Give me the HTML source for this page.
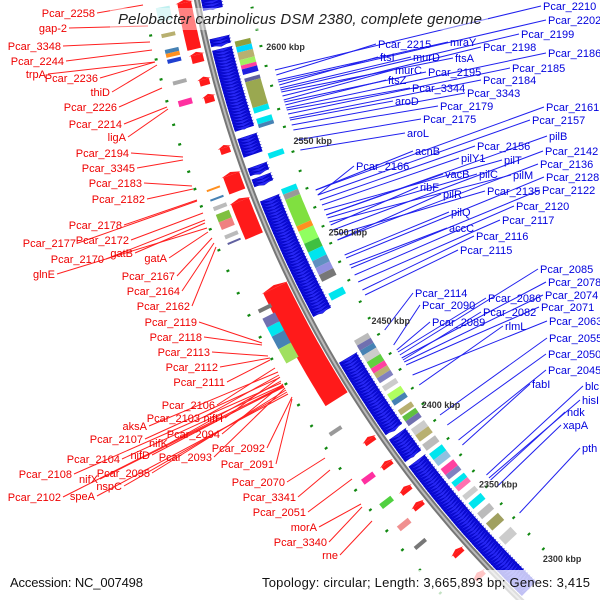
<!DOCTYPE html>
<html><head><meta charset="utf-8"><style>
html,body{margin:0;padding:0;background:#fff;width:600px;height:600px;overflow:hidden;}
svg{display:block;font-family:"Liberation Sans",sans-serif;}
</style></head><body>
<svg id="map" width="600" height="600" viewBox="0 0 600 600" xmlns="http://www.w3.org/2000/svg" overflow="hidden">
<g id="features"></g>
<g id="lines"></g>
<g id="labels"></g>
<g id="ticks"></g>
<rect x="110" y="8" width="378" height="22" fill="#fff" opacity="0.45"/>
<text x="118" y="24" font-size="15" font-style="italic" fill="#222" textLength="364" lengthAdjust="spacing">Pelobacter carbinolicus DSM 2380, complete genome</text>
<rect x="0" y="570" width="600" height="30" fill="#fff" opacity="0.75"/>
<text x="10" y="587" font-size="13" fill="#111" textLength="133" lengthAdjust="spacing">Accession: NC_007498</text>
<text x="262" y="587" font-size="13" fill="#111" textLength="328" lengthAdjust="spacing">Topology: circular; Length: 3,665,893 bp; Genes: 3,415</text>
</svg>
<script>
var CX=1320, CY=-218, R=1144;
var tickKbp=[2600,2550,2500,2450,2400,2350,2300];
var blueClusters=[[2627,2621],[2606,2602],[2600,2557],[2553,2543],[2537,2533],[2531,2527],[2519,2454],[2427,2383],[2380,2366],[2363,2275]];
var redClusters=[[2627,2603,6,20],[2600,2596,6,18],[2587,2584,6,16],[2578,2575,6,16],[2551,2548,6,16],[2537,2528,5,22],[2523,2504,5,24],[2476,2412,4,30],[2386,2384,6,18],[2371,2369,6,18],[2355,2353,6,18],[2345,2343,6,18],[2314,2312,6,18],[2298,2296,6,18]];
var innerCog=[[2602,2599,'#8f9f40'],[2599,2596,'#00d8ff'],[2596,2592,'#b8b070'],[2592,2589,'#a0f060'],[2589,2587,'#ff40a0'],[2587,2584,'#2020e0'],[2582,2580,'#6060a0'],[2580,2566,'#9aa850'],[2566,2563,'#00e5ee'],[2560,2557,'#00e5ee'],[2557,2555,'#4682b4'],[2541,2538,'#00e5ee'],[2521,2518,'#00e5ee'],[2518,2515,'#999'],[2515,2500,'#80e040'],[2500,2497,'#ff9020'],[2497,2490,'#90ff60'],[2490,2485,'#40c040'],[2485,2480,'#00e5ee'],[2480,2476,'#6090c0'],[2476,2472,'#9090e0'],[2472,2468,'#777'],[2461,2457,'#00e5ee'],
[2433,2430,'#bbb'],[2430,2427,'#7070b0'],[2427,2424,'#4682b4'],[2424,2420,'#ccc'],[2420,2416,'#60d040'],[2416,2413,'#ff40a0'],[2413,2410,'#b8b070'],[2410,2407,'#8080c0'],[2405,2402,'#ccc'],[2400,2396,'#b0ff60'],[2396,2393,'#4682b4'],[2390,2387,'#b8b070'],[2386,2383,'#60c040'],[2383,2380,'#7070b0'],[2378,2374,'#ccc'],[2374,2370,'#b8b070'],[2368,2364,'#bbb'],[2362,2358,'#00e5ee'],[2358,2354,'#90c0e0'],[2352,2348,'#ff40a0'],[2348,2345,'#8080c0'],[2343,2340,'#00e5ee'],[2340,2337,'#ff70b0'],[2334,2331,'#ccc'],[2329,2325,'#00e5ee'],[2322,2318,'#bbb'],[2315,2310,'#a0a060'],[2305,2300,'#ccc']];
var outerCog=[[2627,2620,'#c0f0f0'],[2614,2612,'#b8b070'],[2606,2604,'#4682b4'],[2604,2602,'#ff9020'],[2601,2599,'#2040d0'],[2590,2588,'#aaa'],[2580,2577,'#ff30a0'],[2534,2533,'#ff9020'],[2529,2528,'#4682b4'],[2525,2523,'#bbb'],[2521,2517,'#80c040'],[2517,2513,'#f08080'],[2510,2508,'#bbb'],[2506,2505,'#6060a0'],[2470,2468,'#777'],[2465,2460,'#7070b0'],[2460,2455,'#00e5ee'],[2455,2448,'#4682b4'],[2448,2440,'#a0e060'],[2400,2398,'#999'],[2372,2369,'#ff30a0'],[2357,2354,'#50d040'],[2343,2340,'#f09090'],[2330,2328,'#777']];
var innerDots=[2618,2606,2597,2586,2575,2562,2552,2538,2527,2517,2506,2495,2485,2474,2463,2450,2440,2430,2418,2408,2396,2386,2375,2363,2352,2341,2330,2318,2308,2296,2285];
var outerDots=[2615,2603,2593,2582,2570,2560,2546,2537,2528,2516,2505,2494,2482,2470,2458,2446,2432,2420,2408,2395,2383,2370,2358,2345,2333,2320,2305,2290];
var redLabels=[["Pcar_2258",95,13,143,5],["gap-2",67,28,148,26],["Pcar_3348",61,46,150,42],["Pcar_2244",64,61,152,50],["trpA",46,74,155,62],["Pcar_2236",98,78,155,62],["thiD",110,92,157,65],["Pcar_2226",117,107,162,88],["Pcar_2214",122,124,167,107],["ligA",126,137,168,109],["Pcar_2194",129,153,183,157],["Pcar_3345",135,168,183,160],["Pcar_2183",142,183,192,186],["Pcar_2182",145,199,193,189],["Pcar_2178",122,225,197,200],["Pcar_2177",76,243,197,201],["Pcar_2172",129,240,203,213],["Pcar_2170",104,259,205,220],["gatB",133,253,205,223],["glnE",55,274,207,228],["gatA",167,258,208,232],["Pcar_2167",175,276,212,238],["Pcar_2164",180,291,214,243],["Pcar_2162",190,306,216,247],["Pcar_2119",197,322,262,343],["Pcar_2118",202,337,262,345],["Pcar_2113",210,352,268,356],["Pcar_2112",218,367,270,358],["Pcar_2111",225,382,270,360],["Pcar_2106",215,405,275,368],["aksA",147,426,278,372],["Pcar_2103",200,418,279,375],["nifH",223,418,280,377],["Pcar_2107",143,439,279,378],["nifK",168,443,281,381],["Pcar_2094",220,434,283,384],["nifD",150,455,284,386],["Pcar_2093",212,457,285,388],["Pcar_2092",265,448,292,397],["Pcar_2091",274,464,292,399],["Pcar_2104",120,459,283,385],["Pcar_2108",72,474,281,383],["nifX",98,479,284,387],["Pcar_2095",150,473,286,390],["nspC",122,486,287,392],["Pcar_2102",61,497,283,386],["speA",95,496,288,394],["Pcar_2070",285,482,325,458],["Pcar_3341",296,497,330,470],["Pcar_2051",306,512,352,479],["morA",317,527,361,504],["Pcar_3340",327,542,362,507],["rne",338,555,372,521]];
var blueLabels=[["Pcar_2210",543,10,70],["Pcar_2202",548,24,82],["Pcar_2199",521,38,90],["Pcar_2198",483,51,96],["Pcar_2186",548,57,108],["Pcar_2185",512,72,114],["Pcar_2184",483,84,118],["Pcar_3343",467,97,125],["Pcar_2161",546,111,190],["Pcar_2157",532,124,195],["pilB",549,140,215],["Pcar_2142",545,155,230],["Pcar_2136",540,168,240],["Pcar_2128",546,181,258],["Pcar_2122",542,194,268],["Pcar_2120",516,210,275],["Pcar_2117",502,224,282],["Pcar_2116",476,240,290],["Pcar_2115",460,254,295],["Pcar_2114",415,297,330],["Pcar_2090",422,309,345],["Pcar_2086",488,302,352],["Pcar_2085",540,273,355],["Pcar_2078",548,286,358],["Pcar_2074",545,299,362],["Pcar_2082",483,316,360],["Pcar_2071",541,311,365],["Pcar_2089",432,326,350],["rlmL",505,330,385],["Pcar_2063",549,325,375],["Pcar_2055",549,342,415],["Pcar_2050",548,358,425],["Pcar_2045",548,374,440],["fabI",532,388,445],["blc",585,390,475],["hisI",582,404,478],["ndk",567,416,480],["xapA",563,429,487],["pth",582,452,513],["Pcar_2215",378,48,75],["ftsI",380,61,85],["mraY",450,46,80],["murD",413,61,88],["ftsA",455,62,92],["murC",395,74,100],["Pcar_2195",428,76,102],["ftsZ",388,84,105],["Pcar_3344",412,92,110],["aroD",395,105,120],["Pcar_2179",440,110,130],["Pcar_2175",423,123,140],["aroL",407,137,150],["acnB",415,155,190],["Pcar_2166",356,170,195],["Pcar_2156",477,150,200],["pilY1",461,162,205],["pilT",504,164,210],["vacB",445,178,215],["pilC",479,178,218],["pilM",513,179,222],["ribF",420,191,225],["Pcar_2135",487,195,235],["pilR",443,198,240],["pilQ",451,216,255],["accC",449,232,265]];

var NS="http://www.w3.org/2000/svg";
function ang(k){return (166.35+(k-2600)*0.0982)*Math.PI/180;}
function pt(k,off){var a=ang(k),r=R+off;return [CX+r*Math.cos(a),CY+r*Math.sin(a)];}
function mk(tag,parent){var e=document.createElementNS(NS,tag);document.getElementById(parent).appendChild(e);return e;}
function band(k1,k2,o1,o2){var s=[],n=Math.max(2,Math.ceil(Math.abs(k1-k2)/2));for(var i=0;i<=n;i++){s.push(pt(k1+(k2-k1)*i/n,o2));}for(var j=n;j>=0;j--){s.push(pt(k1+(k2-k1)*j/n,o1));}return s.map(function(p){return p[0].toFixed(1)+','+p[1].toFixed(1);}).join(' ');}

var bb=mk('path','features');
var a0=pt(2640,0),a1=pt(2272,0);
bb.setAttribute('d','M'+a0[0]+','+a0[1]+' A'+R+','+R+' 0 0 0 '+a1[0]+','+a1[1]);
bb.setAttribute('fill','none');bb.setAttribute('stroke','#777');bb.setAttribute('stroke-width','6');


var bb2=mk('path','features');
bb2.setAttribute('d',bb.getAttribute('d'));bb2.setAttribute('fill','none');bb2.setAttribute('stroke','#bbb');bb2.setAttribute('stroke-width','2');



blueClusters.forEach(function(c){
  var p=mk('polygon','features');p.setAttribute('points',band(c[0],c[1],-24,-4));p.setAttribute('fill','#0a0ad8');
  
  
  for(var k=c[0];k>c[1]+0.6;k-=1.6){var t=mk('polygon','features');var q1=pt(k,-4),q2=pt(k,-25),q3=pt(k-1.6,-14);t.setAttribute('points',q1.join(',')+' '+q2.join(',')+' '+q3.join(','));t.setAttribute('fill','#2626f4');t.setAttribute('stroke','#0000b0');t.setAttribute('stroke-width','0.4');
  
  }
});
redClusters.forEach(function(c){
  var p=mk('polygon','features');p.setAttribute('points',band(c[0],c[1],c[2],c[3]));p.setAttribute('fill','#ff1a1a');
  
  
  var h=mk('polygon','features');var q1=pt(c[0],c[2]-2),q2=pt(c[0],c[3]+2),q3=pt(c[0]+1.5,(c[2]+c[3])/2);h.setAttribute('points',q1.join(',')+' '+q2.join(',')+' '+q3.join(','));h.setAttribute('fill','#ff1a1a');
  
  
});
innerCog.forEach(function(c){var p=mk('polygon','features');p.setAttribute('points',band(c[0],c[1],-44,-28));p.setAttribute('fill',c[2]);
  
  });
outerCog.forEach(function(c){var p=mk('polygon','features');p.setAttribute('points',band(c[0],c[1],28,42));p.setAttribute('fill',c[2]);
  
  });
innerDots.forEach(function(k){var p=mk('polygon','features');p.setAttribute('points',band(k,k-1.1,-54,-51));p.setAttribute('fill','#118811');
  
  });
outerDots.forEach(function(k){var p=mk('polygon','features');p.setAttribute('points',band(k,k-1.1,51,54));p.setAttribute('fill','#118811');
  
  });

tickKbp.forEach(function(k){var p=pt(k,0);var t=mk('text','ticks');t.setAttribute('x',p[0]+58);t.setAttribute('y',p[1]-2);t.setAttribute('font-size','9');t.setAttribute('fill','#333');t.setAttribute('font-weight','bold');t.textContent=k+' kbp';
  
  });

redLabels.forEach(function(l){
  var ln=mk('line','lines');ln.setAttribute('x1',l[1]+2);ln.setAttribute('y1',l[2]);ln.setAttribute('x2',l[3]);ln.setAttribute('y2',l[4]);ln.setAttribute('stroke','#ff2020');ln.setAttribute('stroke-width','1');
  
  
  var t=mk('text','labels');t.setAttribute('x',l[1]);t.setAttribute('y',l[2]+4);t.setAttribute('text-anchor','end');t.setAttribute('font-size','11');t.setAttribute('fill','#ee0000');t.textContent=l[0];
  
  
});
blueLabels.forEach(function(l){
  var r=R-60,ty=l[3],tx=CX-Math.sqrt(r*r-(ty-CY)*(ty-CY));
  var ln=mk('line','lines');ln.setAttribute('x1',l[1]-2);ln.setAttribute('y1',l[2]-4);ln.setAttribute('x2',tx);ln.setAttribute('y2',ty);ln.setAttribute('stroke','#2020ee');ln.setAttribute('stroke-width','1');
  
  
  var t=mk('text','labels');t.setAttribute('x',l[1]);t.setAttribute('y',l[2]);t.setAttribute('font-size','11');t.setAttribute('fill','#0000dd');t.textContent=l[0];
  
  
});
</script>
</body></html>
